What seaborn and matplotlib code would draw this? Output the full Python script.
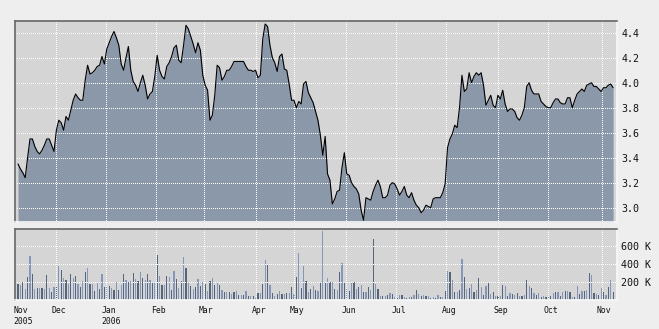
import numpy as np
import pandas as pd
import matplotlib
matplotlib.use("Agg")
import matplotlib.pyplot as plt
import seaborn as sns
from matplotlib.transforms import ScaledTranslation

# ---- data (one value per trading day) ----
price = [
    3.35, 3.31, 3.28, 3.24, 3.40, 3.55, 3.55, 3.49, 3.45, 3.43,
    3.46, 3.50, 3.55, 3.55, 3.50, 3.45, 3.62, 3.70, 3.68, 3.62,
    3.73, 3.70, 3.78, 3.86, 3.91, 3.88, 3.86, 3.86, 4.02, 4.14,
    4.07, 4.08, 4.10, 4.13, 4.14, 4.21, 4.15, 4.27, 4.32, 4.37,
    4.41, 4.36, 4.30, 4.15, 4.10, 4.20, 4.29, 4.10, 4.01, 3.98,
    3.93, 4.00, 4.06, 3.98, 3.87, 3.91, 3.93, 4.05, 4.22, 4.10,
    4.05, 4.03,
    4.13, 4.16, 4.21, 4.28, 4.30, 4.18, 4.16, 4.30, 4.46, 4.43,
    4.37, 4.31, 4.24, 4.32, 4.26, 4.06, 3.98, 3.94, 3.70, 3.74,
    3.90, 4.14, 4.12, 4.02, 4.05, 4.10, 4.10, 4.13, 4.17, 4.17,
    4.17, 4.17, 4.17, 4.13, 4.10, 4.10, 4.09, 4.10, 4.04, 4.06,
    4.35, 4.47, 4.45, 4.30, 4.20, 4.16, 4.09, 4.21, 4.23, 4.11,
    4.10, 3.99, 3.86, 3.86, 3.80, 3.85, 3.83, 3.99, 4.01, 3.92,
    3.88, 3.84,
    3.77, 3.70, 3.58, 3.42, 3.57, 3.27, 3.22, 3.03, 3.07, 3.13,
    3.14, 3.32, 3.44, 3.27, 3.26, 3.20, 3.17, 3.15, 3.11, 2.98,
    2.90, 3.08, 3.07, 3.06, 3.13, 3.18, 3.22, 3.17, 3.08, 3.08,
    3.10, 3.18, 3.20, 3.19, 3.15, 3.10, 3.13, 3.17, 3.10, 3.08,
    3.12, 3.06, 3.02, 3.00, 2.96, 2.98, 3.02, 3.01, 3.00, 3.07,
    3.08, 3.08, 3.08, 3.12, 3.19, 3.48, 3.55, 3.59, 3.66, 3.64,
    3.80, 4.06,
    3.93, 3.95, 4.08, 4.00, 4.05, 4.08, 4.06, 4.08, 3.98, 3.82,
    3.86, 3.90, 3.82, 3.80, 3.90, 3.87, 3.94, 3.83, 3.77, 3.79,
    3.79, 3.77, 3.72, 3.70, 3.74, 3.80, 3.97, 4.00, 3.94, 3.91,
    3.91, 3.91, 3.85, 3.83, 3.81, 3.80, 3.80, 3.84, 3.87, 3.87,
    3.84, 3.83, 3.83, 3.88, 3.88, 3.80, 3.86, 3.91, 3.93, 3.95,
    3.93, 3.98, 3.99, 4.00, 3.97, 3.97, 3.95, 3.93, 3.96, 3.96,
    3.98, 3.99, 3.96,
]

volume_k = [
    181, 167, 204, 130, 259, 492, 292, 130, 137, 137,
    137, 130, 281, 137, 93, 148, 148, 381, 337, 248,
    226, 181, 292, 248, 270, 181, 148, 215, 315, 359,
    181, 181, 104, 204, 130, 292, 148, 159, 159, 137,
    115, 204, 115, 170, 292, 226, 204, 215, 303, 237,
    215, 315, 248, 226, 292, 226, 192, 192, 503, 270,
    170, 170,
    270, 259, 115, 326, 237, 137, 215, 481, 359, 192,
    159, 126, 148, 237, 159, 204, 181, 104, 215, 248,
    170, 192, 170, 115, 93, 93, 93, 70, 93, 104,
    59, 59, 59, 104, 48, 48, 48, 26, 81, 81,
    181, 448, 392, 170, 81, 48, 70, 104, 70, 70,
    81, 81, 148, 70, 259, 525, 137, 381, 215, 93,
    126, 159,
    115, 104, 192, 770, 204, 248, 204, 204, 126, 115,
    315, 414, 192, 126, 104, 192, 204, 126, 148, 170,
    93, 93, 148, 115, 681, 181, 126, 48, 48, 48,
    59, 81, 70, 37, 26, 59, 59, 37, 26, 37,
    37, 59, 115, 70, 48, 59, 48, 48, 26, 37,
    26, 59, 37, 37, 104, 326, 315, 226, 93, 93,
    115, 459,
    259, 126, 137, 181, 93, 115, 248, 148, 59, 159,
    192, 70, 93, 48, 48, 48, 170, 159, 48, 81,
    70, 59, 81, 48, 48, 59, 226, 159, 137, 81,
    59, 81, 37, 48, 37, 48, 48, 81, 93, 93,
    48, 93, 104, 104, 93, 37, 37, 159, 70, 104,
    104, 115, 303, 281, 81, 70, 59, 137, 93, 59,
    148, 226, 93,
]

month_pos = [16, 36.8, 57.6, 77.4, 99.3, 115.1, 136.8, 157.6, 178.5, 200.1, 221, 243.2]
month_labels = ["Dec", "Jan\n2006", "Feb", "Mar", "Apr", "May", "Jun",
                "Jul", "Aug", "Sep", "Oct", "Nov"]
start_pos = 0.2
start_label = "Nov\n2005"
price_ticks = [3.0, 3.2, 3.4, 3.6, 3.8, 4.0, 4.2, 4.4]
vol_ticks = [200, 400, 600]

df = pd.DataFrame({"day": np.arange(len(price)), "price": price})
vdf = pd.DataFrame({"day": np.arange(len(volume_k)), "vol": volume_k})

# ---- style ----
sns.set_theme(style="white")
plt.rcParams["font.family"] = ["DejaVu Sans Mono", "DejaVu Sans"]
plt.rcParams["lines.scale_dashes"] = False

W, H = 659, 329
FIG_BG = "#eeeeee"
AX_BG = "#d5d5d5"
FILL = "#8a98a9"
DARK_BAR = "#56657a"
LIGHT_BAR = "#8497bb"
SPINE_DARK = "#666666"
SPINE_LIGHT = "#f8f8f8"

fig = plt.figure(figsize=(W / 100, H / 100), dpi=100, facecolor=FIG_BG)


def rect(l, t, r, b):
    return [l / W, 1 - b / H, (r - l) / W, (b - t) / H]


ax1 = fig.add_axes(rect(15, 21, 616.7, 222.3))
ax2 = fig.add_axes(rect(15, 229.3, 616.7, 300.3))

XLIM = (-1.25, 249.5)
PLIM = (2.883, 4.494)
VLIM = (0, 789)

grid_kw = dict(color="white", linestyle=(0, (0.72, 1.44)), linewidth=0.72,
               zorder=2.5, antialiased=False)

for ax in (ax1, ax2):
    ax.set_facecolor(AX_BG)
    ax.spines["top"].set_color(SPINE_DARK)
    ax.spines["left"].set_color(SPINE_DARK)
    ax.spines["right"].set_color(SPINE_LIGHT)
    ax.spines["bottom"].set_color(SPINE_LIGHT)
    for s in ax.spines.values():
        s.set_linewidth(1.2)
    ax.tick_params(which="both", length=0)
    ax.yaxis.tick_right()
    for xp in month_pos:
        ax.axvline(xp, **grid_kw)

# ---- price panel ----
ax1.fill_between(df["day"], df["price"], PLIM[0], color=FILL, linewidth=0, zorder=1)
sns.lineplot(data=df, x="day", y="price", ax=ax1, color="black", linewidth=0.8, zorder=3)
for yp in price_ticks:
    ax1.axhline(yp, **grid_kw)
ax1.set_xlim(*XLIM)
ax1.set_ylim(*PLIM)
ax1.set_xticks([])
ax1.set_yticks(price_ticks)
ax1.set_yticklabels([f"{v:.1f}" for v in price_ticks], fontsize=7.2, color="#111111")
ax1.tick_params(axis="y", pad=3.6)
ax1.set_xlabel("")
ax1.set_ylabel("")

# ---- volume panel ----
bar_colors = [DARK_BAR if i % 2 == 0 else LIGHT_BAR for i in range(len(volume_k))]
ax2.bar(vdf["day"], vdf["vol"], width=0.5, color=bar_colors, linewidth=0,
        antialiased=False, zorder=1)
for yp in vol_ticks:
    ax2.axhline(yp, **grid_kw)
ax2.set_xlim(*XLIM)
ax2.set_ylim(*VLIM)
ax2.set_yticks(vol_ticks)
ax2.set_yticklabels([f"{v} K" for v in vol_ticks], fontsize=7.2, color="#111111")
ax2.tick_params(axis="y", pad=3.0)
ax2.set_xticks([start_pos] + month_pos)
ax2.set_xticklabels([start_label] + month_labels, fontsize=5.9, color="#111111",
                    ha="left", va="top", linespacing=1.35)
ax2.tick_params(axis="x", pad=4.0)
offset = ScaledTranslation(-4.7 / 100, 0, fig.dpi_scale_trans)
for lab in ax2.get_xticklabels():
    lab.set_transform(lab.get_transform() + offset)

fig.savefig("out.png", dpi=100, facecolor=FIG_BG)
